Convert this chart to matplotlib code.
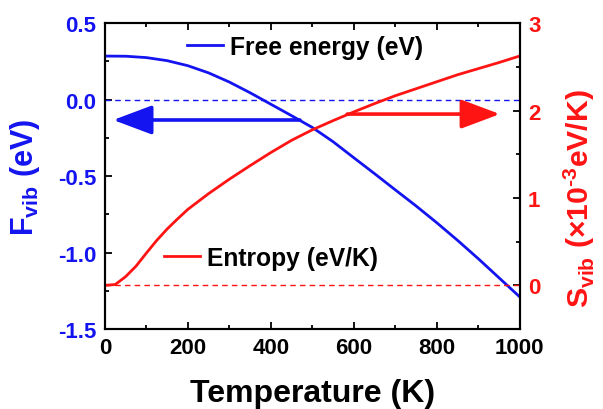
import numpy as np
import matplotlib
matplotlib.use('Agg')
import matplotlib.pyplot as plt
from matplotlib.ticker import MultipleLocator

plt.rcParams['font.family'] = ['Liberation Sans', 'DejaVu Sans']
plt.rcParams['font.weight'] = 'bold'
plt.rcParams['axes.unicode_minus'] = False
plt.rcParams['mathtext.fontset'] = 'custom'
plt.rcParams['mathtext.rm'] = 'Liberation Sans'
plt.rcParams['mathtext.bf'] = 'Liberation Sans:bold'

# temperature grid (K)
temp = [0, 50, 100, 150, 200, 250, 300, 350, 400, 450, 500,
        550, 600, 650, 700, 750, 800, 850, 900, 950, 1000]
# vibrational free energy (eV)
f_vib = [0.285, 0.284, 0.275, 0.255, 0.222, 0.175, 0.115, 0.045, -0.030, -0.105, -0.182,
         -0.275, -0.380, -0.484, -0.590, -0.695, -0.805, -0.920, -1.040, -1.165, -1.290]
# vibrational entropy (1e-3 eV/K)
temp_s = [0, 25, 50, 75, 100, 125, 150, 175, 200, 250, 300, 350, 400, 450, 500,
          550, 600, 650, 700, 750, 800, 850, 900, 950, 1000]
s_vib = [0.0, 0.01, 0.10, 0.22, 0.37, 0.515, 0.645, 0.76, 0.87, 1.05, 1.215, 1.37, 1.52,
         1.66, 1.78, 1.885, 1.985, 2.08, 2.17, 2.25, 2.33, 2.41, 2.48, 2.55, 2.625]

blue = '#1414f0'
red = '#ff1414'

fig = plt.figure(figsize=(6.03, 4.10), dpi=100)
ax = fig.add_axes([0.174, 0.195, 0.688, 0.746])
ax2 = ax.twinx()

l1, = ax.plot(temp, f_vib, color=blue, lw=2.0)
ax.axhline(0, color=blue, lw=1.0, ls=(0, (4, 3)))
l2, = ax2.plot(temp_s, s_vib, color=red, lw=2.0)
ax2.axhline(0, color=red, lw=1.0, ls=(0, (4, 3)))

ax.set_xlim(0, 1000)
ax.set_ylim(-1.5, 0.5)
ax2.set_ylim(-0.5, 3)

ax.xaxis.set_major_locator(MultipleLocator(200))
ax.xaxis.set_minor_locator(MultipleLocator(100))
ax.yaxis.set_major_locator(MultipleLocator(0.5))
ax.yaxis.set_minor_locator(MultipleLocator(0.25))
ax.yaxis.set_major_formatter(plt.FormatStrFormatter('%.1f'))
ax2.set_yticks([0, 1, 2, 3])
ax2.yaxis.set_minor_locator(MultipleLocator(0.5))

ax.tick_params(which='both', direction='in', top=True, width=1.3, labelsize=16, pad=6)
ax.tick_params(which='major', length=5)
ax.tick_params(which='minor', length=3)
ax.tick_params(axis='y', labelcolor=blue)
ax2.tick_params(which='both', direction='in', width=1.3, labelsize=16, pad=6, labelcolor=red)
ax2.tick_params(which='major', length=5)
ax2.tick_params(which='minor', length=3)
for a in (ax, ax2):
    for sp in a.spines.values():
        sp.set_linewidth(1.5)

ax.set_xlabel('Temperature (K)', fontsize=23, fontweight='bold', labelpad=14)
ax.set_ylabel(r'F$_{\mathbf{vib}}$ (eV)', fontsize=22, fontweight='bold', color=blue, labelpad=12)
ax2.set_ylabel('S$_{\\mathbf{vib}}$ (\u00d710$^{\\mathbf{\u20103}}$eV/K)', fontsize=21.7,
               fontweight='bold', color=red)
ax2.yaxis.set_label_coords(1.10, 0.43)

# arrows pointing to the axis each curve belongs to
ax.annotate('', xy=(20, -0.133), xytext=(470, -0.133),
            arrowprops=dict(arrowstyle='-|>,head_length=24,head_width=9', mutation_scale=1,
                            color=blue, lw=2.6, shrinkA=0, shrinkB=0))
ax2.annotate('', xy=(952, 1.96), xytext=(584, 1.96),
             arrowprops=dict(arrowstyle='-|>,head_length=24,head_width=9', mutation_scale=1,
                             color=red, lw=2.6, shrinkA=0, shrinkB=0))

leg1 = ax2.legend([l1], ['Free energy (eV)'], loc='center left', bbox_to_anchor=(0.198, 0.922),
                  frameon=False, fontsize=17.7, handlelength=1.45, handletextpad=0.3,
                  borderpad=0, borderaxespad=0)
ax2.add_artist(leg1)
ax2.legend([l2], ['Entropy (eV/K)'], loc='center left', bbox_to_anchor=(0.143, 0.232),
           frameon=False, fontsize=17.7, handlelength=1.45, handletextpad=0.3,
           borderpad=0, borderaxespad=0)

plt.savefig('out.png', dpi=100)
